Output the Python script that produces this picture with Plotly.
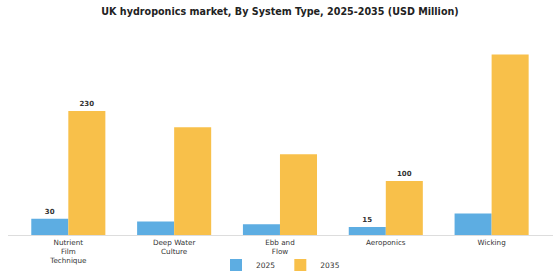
import plotly.graph_objects as go

categories = ["Nutrient<br>Film<br>Technique", "Deep Water<br>Culture", "Ebb and<br>Flow", "Aeroponics", "Wicking"]
years = ["2025", "2035"]
values_2025 = [30, 25, 20, 15, 40]
values_2035 = [230, 200, 150, 100, 335]
labels_2025 = ["30", "", "", "15", ""]
labels_2035 = ["230", "", "", "100", ""]

colors = {"2025": "#5DADE2", "2035": "#F8C04A"}

fig = go.Figure()
x = list(range(len(categories)))
for yr, vals, labs in [("2025", values_2025, labels_2025), ("2035", values_2035, labels_2035)]:
    fig.add_trace(go.Bar(
        x=x, y=vals, name=yr,
        marker=dict(color=colors[yr], line=dict(width=0)),
        text=labs, textposition="outside",
        textfont=dict(family="DejaVu Sans", size=7, color="#333333", weight="bold"),
        cliponaxis=False,
    ))

fig.update_layout(
    width=560, height=280,
    margin=dict(l=8, r=7, t=41, b=45, autoexpand=False),
    paper_bgcolor="white", plot_bgcolor="white",
    barmode="group", bargap=0.3, bargroupgap=0,
    title=dict(text="<b>UK hydroponics market, By System Type, 2025-2035 (USD Million)</b>",
               x=0.5, xanchor="center", y=0.96, yanchor="middle",
               font=dict(family="DejaVu Sans", size=9.6, color="#222222")),
    font=dict(family="DejaVu Sans", size=7.2, color="#333333"),
    showlegend=True,
    legend=dict(orientation="h", x=0.5, xanchor="center", yref="container", y=0.054, yanchor="middle",
                bgcolor="rgba(0,0,0,0)", font=dict(size=7.5, color="#333333"),
                itemwidth=30),
    uniformtext=dict(minsize=6, mode="show"),
)
fig.update_xaxes(
    tickmode="array", tickvals=x, ticktext=categories,
    range=[-0.57, 4.58], showgrid=False, zeroline=False, automargin=False,
    showline=True, linecolor="#dddddd", linewidth=1,
    ticks="", tickfont=dict(size=7.2, color="#333333"),
)
fig.update_yaxes(range=[0, 360], visible=False, showgrid=False, automargin=False)

fig.write_html("out.html")
